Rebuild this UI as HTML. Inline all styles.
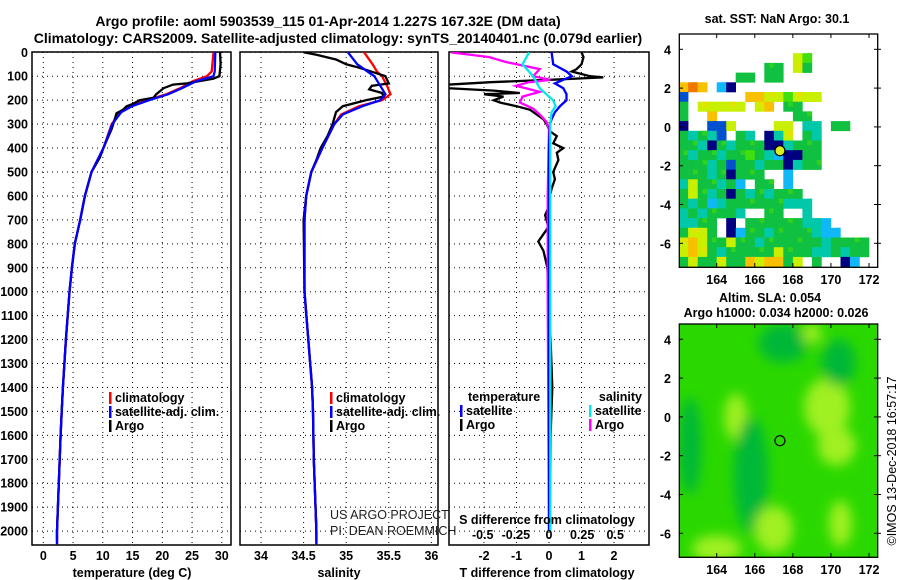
<!DOCTYPE html>
<html><head><meta charset="utf-8">
<style>
html,body{margin:0;padding:0;background:#fff;}
svg{display:block;font-family:"Liberation Sans",sans-serif;}
.b{font-weight:bold;font-size:12.5px;}
.n{font-weight:normal;font-size:12.5px;}
</style></head>
<body>
<svg id="chart" width="900" height="580" viewBox="0 0 900 580" xmlns="http://www.w3.org/2000/svg">
<defs>
<clipPath id="c1"><rect x="32" y="52" width="199" height="493"/></clipPath>
<clipPath id="c2"><rect x="240" y="52" width="198" height="493"/></clipPath>
<clipPath id="c3"><rect x="449" y="52" width="200" height="493"/></clipPath>
<clipPath id="cm1"><rect x="679" y="34" width="199" height="233"/></clipPath>
<clipPath id="cm2"><rect x="679" y="324" width="199" height="233"/></clipPath>
<filter id="blur" x="-20%" y="-20%" width="140%" height="140%"><feGaussianBlur stdDeviation="6"/></filter>
</defs>
<text x="328" y="26" text-anchor="middle" font-weight="bold" font-size="14">Argo profile: aoml 5903539_115 01-Apr-2014 1.227S 167.32E (DM data)</text>
<text x="338" y="43" text-anchor="middle" font-weight="bold" font-size="14">Climatology: CARS2009. Satellite-adjusted climatology: synTS_20140401.nc (0.079d earlier)</text>
<g id="g1"></g>
<g id="g2"></g>
<g id="g3"></g>
<g id="m1"></g>
<g id="m2"></g>
</svg>
<script>
// ---- data ----
const depthTicks=[0,100,200,300,400,500,600,700,800,900,1000,1100,1200,1300,1400,1500,1600,1700,1800,1900,2000];
const tempTicks=[0,5,10,15,20,25,30];
const salTicks=[34,34.5,35,35.5,36];
const tdTicks=[-2,-1,0,1,2];
const sdTicks=[-0.5,-0.25,0,0.25,0.5];
const sdTickLabels=["-0.5","-0.25","0","0.25","0.5"];

const tArgoD=[0,50,100,110,130,135,150,175,190,200,215,225,240,255,280,320,400,440,500,600,700,800,900,1000,1200,1400,1500,1600,1800,2000,2040];
const tArgoV=[29.7,29.8,29.6,28.6,24.1,21.8,20.2,19.0,18.5,16.2,15.1,14.0,13.4,12.3,12.0,11.5,10.1,9.5,8.1,7.0,6.2,5.3,4.8,4.4,3.8,3.3,3.1,2.9,2.6,2.3,2.3];
const tClimD=[0,80,100,120,150,175,200,225,250,300,400,500,600,700,800,900,1000,1200,1400,1500,1600,1800,2000,2055];
const tClimV=[28.6,28.3,27.5,25.2,23.0,20.7,17.4,14.6,12.9,11.5,10.1,8.1,7.0,6.2,5.3,4.8,4.4,3.8,3.3,3.1,2.9,2.6,2.3,2.3];
const tSatV=[28.9,28.8,28.6,25.8,23.3,21.0,17.8,14.9,13.1,11.6,10.1,8.1,7.0,6.2,5.3,4.8,4.4,3.8,3.3,3.1,2.9,2.6,2.3,2.3];

const sArgoD=[0,10,30,50,60,75,100,130,140,155,170,185,200,225,250,300,350,400,450,500,600,700,1000,1400,1500,1700,2000,2040];
const sArgoV=[34.5,34.65,34.88,35.0,35.11,35.25,35.46,35.5,35.3,35.27,35.42,35.44,35.23,34.96,34.88,34.84,34.78,34.7,34.65,34.59,34.53,34.5,34.51,34.6,34.61,34.62,34.65,34.65];
const sClimD=[0,50,80,100,140,175,200,225,260,300,400,500,600,700,1000,1400,1500,1700,2000,2055];
const sClimV=[35.21,35.31,35.36,35.42,35.48,35.52,35.42,35.15,34.94,34.86,34.72,34.59,34.53,34.51,34.51,34.6,34.61,34.62,34.65,34.65];
const sSatV=[35.02,35.13,35.25,35.33,35.4,35.46,35.4,35.19,34.96,34.86,34.72,34.59,34.53,34.51,34.51,34.6,34.61,34.62,34.65,34.65];

const dTArgoD=[0,20,50,70,80,100,105,115,125,135,150,160,170,175,185,200,210,225,240,260,280,300,330,350,380,400,420,450,500,530,570,600,650,680,730,790,830,900,1000,1200,1400,1600,1800,2000];
const dTArgoV=[1.0,1.06,1.0,0.85,0.7,1.26,1.67,0.03,-1.8,-3.1,-3.1,-1.7,-0.9,-2.0,-1.4,-1.7,-1.5,-1.0,-0.58,-0.38,-0.17,-0.07,0.03,0.24,0.13,0.44,0.24,0.29,0.13,0.18,0.08,0.03,-0.02,-0.12,-0.02,-0.33,-0.17,-0.05,-0.02,0.05,0.1,0.05,0.04,0.02];
const dTSatD=[0,50,80,100,115,130,150,175,200,225,250,280,300,400,1000,2000];
const dTSatV=[0.08,0.13,0.54,0.7,0.44,0.18,0.44,0.54,0.54,0.34,0.18,0.08,0.03,0.0,0.0,0.0];
const dSArgoD=[0,20,40,70,100,115,125,140,165,185,210,235,260,290,320,600,1000,2000];
const dSArgoV=[-0.74,-0.45,-0.33,-0.07,-0.12,0.01,-0.15,-0.25,-0.07,-0.2,-0.22,-0.12,-0.07,-0.02,0.0,-0.01,-0.01,0.0];
const dSSatD=[0,50,100,150,200,225,250,300,600,1000,2000];
const dSSatV=[-0.15,-0.2,-0.12,-0.07,0.03,0.05,0.02,0.01,0.01,0.01,0.01];

// SST map grid (0.5 deg cells; lon 162..172.5, lat 4.8..-7.2)
const sstRows=[
".....................",
".....................",
"............yl.......",
".........gg.yg.......",
"......gg.gg..........",
"oro.cn...............",
"b......ooyylyyy......",
"g.yyyyy.yo.gg........",
"g..o........gg.......",
"n..bby....yy.tt.gg...",
"gtgtb.gt.nty.gt......",
"ggtngtgggnntggg......",
"gtggtgglgtcnngg......",
"gggtgbggtggntgg......",
"gggtgnggg..c.........",
"tyggtgc.gg.c.........",
"gygtgngtgtggg........",
"gtgctggggggttt.......",
"tgtgggt..gg..t.......",
"ttgg.n.ggggggttc.....",
"gyyg.ncggtggggtcc....",
"yoyggyggtggggggtgggg.",
"yoygtgggggygggttgtgg.",
"gyggyggoyoogy.g..nc.."];
const sstColors={g:"#10c040",t:"#00c8a8",c:"#10b8f8",b:"#0050d0",n:"#000080",y:"#c8f000",l:"#40e010",o:"#f8c000",r:"#f07800"};
// SLA blobs
const slaLon=[165,165.8,169.8,170.3,167,164,167.5,169,170.4,170.5,162.6];
const slaLat=[0,-3,0.5,-1.5,-5.8,-6.8,3.8,4.3,2.8,-5.5,-1.5];
const slaRx=[0.6,0.9,1.2,1.0,1.0,1.3,1.3,0.5,0.9,0.6,0.6];
const slaRy=[1.2,3.0,1.5,1.0,1.2,0.7,1.0,0.5,1.2,1.2,2.5];
const slaKind=["l","d","l","l","l","l","d","l","d","l","d"];

// ---- helpers ----
const NS="http://www.w3.org/2000/svg";
function mk(tag,attrs,parent){const e=document.createElementNS(NS,tag);for(const k in attrs)e.setAttribute(k,attrs[k]);parent.appendChild(e);return e;}
const yD=d=>52.3+d*0.2394;
const xT=v=>43.3+v*5.95;
const xS=v=>261+(v-34)*85.2;
const xTD=v=>549+v*32.5;
const xSD=v=>549+v*132.5;

function frame(g,x0,x1,xTicks,xf){
  depthTicks.forEach(d=>{const l=mk('line',{x1:x0,x2:x1,y1:yD(d),y2:yD(d),stroke:'#000','stroke-width':1,'stroke-dasharray':'1,4'},g);
    
    });
  xTicks.forEach(v=>{const l=mk('line',{x1:xf(v),x2:xf(v),y1:52,y2:545,stroke:'#000','stroke-width':1,'stroke-dasharray':'1,4'},g);
    
    });
  const r=mk('rect',{x:x0,y:52,width:x1-x0,height:493,fill:'none',stroke:'#000','stroke-width':1.5},g);
  
  
}
function line(g,xs,ds,xf,color,clip,name){
  const pts=xs.map((v,i)=>xf(v).toFixed(1)+','+yD(ds[i]).toFixed(1)).join(' ');
  const p=mk('polyline',{points:pts,fill:'none',stroke:color,'stroke-width':2.3,'clip-path':'url(#'+clip+')'},g);
  
  
}
function txt(g,x,y,s,anchor,cls,name,extra){
  const t=mk('text',Object.assign({x:x,y:y,'text-anchor':anchor||'start','class':cls||'b'},extra||{}),g);t.textContent=s;
  
  
  return t;
}
function legend(g,x,y,color,label){
  const r=mk('rect',{x:x,y:y-10,width:2.5,height:12,fill:color},g);
  
  
  txt(g,x+6,y,label,'start','b','legend-entry');
}

// ---- panel 1 ----
const g1=document.getElementById('g1');
frame(g1,32,231,tempTicks,xT);
depthTicks.forEach(d=>txt(g1,28,yD(d)+4.5,String(d),'end','b','y-tick-label'));
tempTicks.forEach(v=>txt(g1,xT(v),560,String(v),'middle','b','x-tick-label'));
txt(g1,132,577,'temperature (deg C)','middle','b','x-axis-title');
line(g1,tClimV,tClimD,xT,'#ff0000','c1','temp-climatology-line');
line(g1,tArgoV,tArgoD,xT,'#000000','c1','temp-argo-line');
line(g1,tSatV,tClimD,xT,'#0000ff','c1','temp-satellite-line');
legend(g1,109,402,'#ff0000','climatology');
legend(g1,109,416,'#0000ff','satellite-adj. clim.');
legend(g1,109,430,'#000000','Argo');

// ---- panel 2 ----
const g2=document.getElementById('g2');
frame(g2,240,438,salTicks,xS);
salTicks.forEach(v=>txt(g2,xS(v),560,String(v),'middle','b','x-tick-label'));
txt(g2,339,577,'salinity','middle','b','x-axis-title');
line(g2,sClimV,sClimD,xS,'#ff0000','c2','sal-climatology-line');
line(g2,sArgoV,sArgoD,xS,'#000000','c2','sal-argo-line');
line(g2,sSatV,sClimD,xS,'#0000ff','c2','sal-satellite-line');
legend(g2,330,402,'#ff0000','climatology');
legend(g2,330,416,'#0000ff','satellite-adj. clim.');
legend(g2,330,430,'#000000','Argo');
txt(g2,330,519,'US ARGO PROJECT','start','n','credit-line-1',{'fill':'#222'});
txt(g2,330,535,'PI: DEAN ROEMMICH','start','n','credit-line-2',{'fill':'#222'});

// ---- panel 3 ----
const g3=document.getElementById('g3');
frame(g3,449,649,tdTicks,xTD);
tdTicks.forEach(v=>txt(g3,xTD(v),560,String(v),'middle','b','x-tick-label'));
txt(g3,547,577,'T difference from climatology','middle','b','x-axis-title');
line(g3,dTArgoV,dTArgoD,xTD,'#000000','c3','tdiff-argo-line');
line(g3,dSArgoV,dSArgoD,xSD,'#ff00ff','c3','sdiff-argo-line');
line(g3,dTSatV,dTSatD,xTD,'#0000ff','c3','tdiff-satellite-line');
line(g3,dSSatV,dSSatD,xSD,'#00e8e8','c3','sdiff-satellite-line');
txt(g3,547,524,'S difference from climatology','middle','b','top-axis-title');
sdTicks.forEach((v,i)=>txt(g3,xSD(v),539,sdTickLabels[i],'middle','b','s-tick-label'));
txt(g3,468,401,'temperature','start','b','legend-header-temp');
txt(g3,642,401,'salinity','end','b','legend-header-sal');
legend(g3,460,415,'#0000ff','satellite');
legend(g3,460,429,'#000000','Argo');
legend(g3,589,415,'#00e8e8','satellite');
legend(g3,589,429,'#ff00ff','Argo');

// ---- maps ----
const lonX=l=>716.7+(l-164)*19.04;
const latY=(la,off)=>off+49.3+(4-la)*19.4;
function mapAxes(g,off){
  const lonT=[164,166,168,170,172], latT=[4,2,0,-2,-4,-6];
  const r=mk('rect',{x:679.3,y:off+34,width:198.4,height:233.3,fill:'none',stroke:'#000','stroke-width':1.3},g);
  
  
  lonT.forEach(l=>{mk('line',{x1:lonX(l),x2:lonX(l),y1:off+267.3,y2:off+263,stroke:'#000'},g);mk('line',{x1:lonX(l),x2:lonX(l),y1:off+34,y2:off+38,stroke:'#000'},g);
    txt(g,lonX(l),off+284,String(l),'middle','b','lon-tick-label',{'font-size':'13.5'});});
  latT.forEach(la=>{mk('line',{x1:679.3,x2:683,y1:latY(la,off),y2:latY(la,off),stroke:'#000'},g);mk('line',{x1:874,x2:881,y1:latY(la,off),y2:latY(la,off),stroke:'#000'},g);
    txt(g,671,latY(la,off)+5,String(la),'end','b','lat-tick-label',{'font-size':'13.5'});});
}
const m1=document.getElementById('m1');
sstRows.forEach((row,j)=>{[...row].forEach((ch,i)=>{if(ch==='.')return;
  const lon0=162+0.5*i, lat0=4.8-0.5*j;
  const x0=lonX(lon0), y0=latY(lat0,0);
  const w=0.5*19.04, h=0.5*19.4;
  const c=mk('rect',{x:x0.toFixed(1),y:y0.toFixed(1),width:(w+0.3).toFixed(1),height:(h+0.3).toFixed(1),fill:sstColors[ch],'clip-path':'url(#cm1)'},m1);
  
  
  if((i+j)%3===0){const c2=mk('rect',{x:(x0+w/2).toFixed(1),y:y0.toFixed(1),width:(w/2).toFixed(1),height:(h/2).toFixed(1),fill:ch==='g'?'#30d020':(ch==='y'?'#e8e000':sstColors[ch]),'clip-path':'url(#cm1)'},m1);
    
    }
});});
mapAxes(m1,0);
txt(m1,777,23,'sat. SST: NaN Argo: 30.1','middle','b','sst-map-title',{'font-size':'13'});
const a1=mk('circle',{cx:lonX(167.32),cy:latY(-1.227,0),r:5,fill:'#d8f020',stroke:'#000','stroke-width':1.2},m1);



const m2=document.getElementById('m2');
const bg=mk('rect',{x:679.3,y:324,width:198.4,height:233.3,fill:'#2ad800'},m2);


const bl=mk('g',{'clip-path':'url(#cm2)'},m2);
const blg=mk('g',{filter:'url(#blur)'},bl);
slaLon.forEach((l,i)=>{const e=mk('ellipse',{cx:lonX(l),cy:latY(slaLat[i],290),rx:slaRx[i]*19,ry:slaRy[i]*19.4,fill:slaKind[i]==='l'?'#a0f020':'#00b838'},blg);
  
  });
mapAxes(m2,290);
txt(m2,770,302,'Altim. SLA: 0.054','middle','b','sla-map-title',{'font-size':'13'});
txt(m2,776,317,'Argo h1000: 0.034 h2000: 0.026','middle','b','sla-map-subtitle',{'font-size':'13'});
const a2=mk('circle',{cx:lonX(167.32),cy:latY(-1.227,290),r:5,fill:'none',stroke:'#000','stroke-width':1.2},m2);


txt(m2,896,461,'©IMOS 13-Dec-2018 16:57:17','middle','n','imos-credit',{'font-size':'13','transform':'rotate(-90 896 461)'});
</script>
</body></html>
